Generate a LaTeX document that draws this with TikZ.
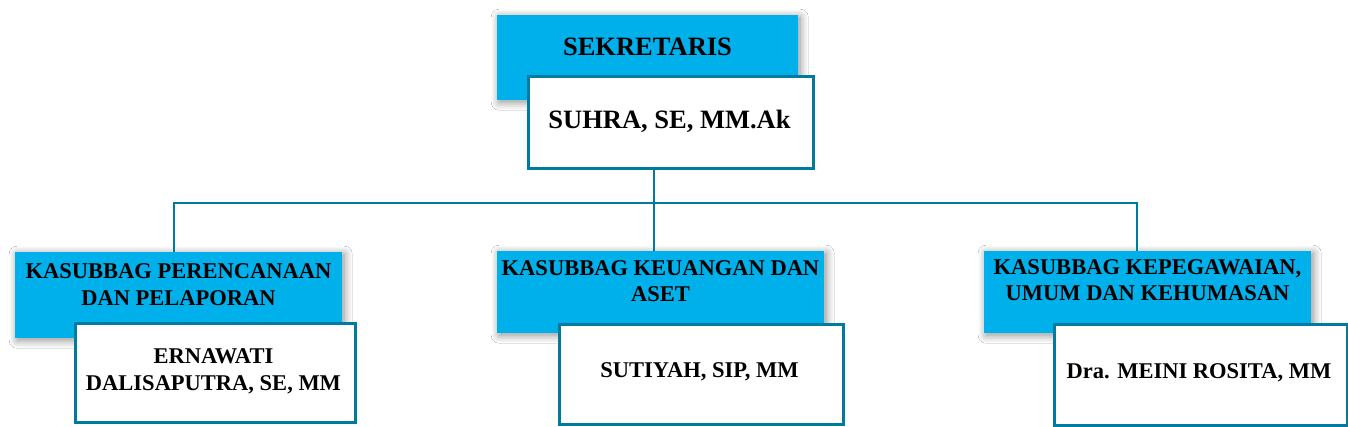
\documentclass[tikz,border=0pt]{standalone}
\usepackage{fontspec}
\setmainfont{Liberation Serif}
\usetikzlibrary{shadows.blur}
\definecolor{cyanfill}{HTML}{00B0EA}
\definecolor{tealline}{HTML}{007BA0}
\tikzset{
  cyanbox/.style={fill=cyanfill, draw=none, anchor=north west, inner sep=0pt,
    blur shadow={shadow xshift=2pt, shadow yshift=-2pt, shadow blur radius=8pt, shadow opacity=45, shadow blur steps=12}},
  whitebox/.style={fill=white, draw=tealline, line width=3pt, anchor=north west, inner sep=0pt},
  conn/.style={draw=tealline, line width=2.5pt},
  bigtxt/.style={font=\fontsize{26.5}{32}\selectfont\bfseries, inner sep=0pt},
  smalltxt/.style={font=\fontsize{22.5}{26.5}\selectfont\bfseries, inner sep=0pt, align=center},
}
\begin{document}
\begin{tikzpicture}[x=1pt,y=-1pt]
\useasboundingbox[fill=white] (0,0) rectangle (1348,426);
% coordinates for connectors
\coordinate (j) at (654,203);
\coordinate (cL) at (174,203);
\coordinate (cR) at (1137,203);
% top
\node[cyanbox, minimum width=301pt, minimum height=85pt] (sek) at (497,15) {};
\node[whitebox, minimum width=285pt, minimum height=92pt] (suhra) at (526.5,74.5) {};
\node[bigtxt] (sekt) at (647.5,47) {SEKRETARIS};
\node[bigtxt] (suhrat) at (669.5,121) {SUHRA, SE, MM.Ak};
% left
\node[cyanbox, minimum width=327pt, minimum height=86pt] (per) at (15,252) {};
\node[whitebox, minimum width=280pt, minimum height=99pt] (ern) at (73.5,321.5) {};
\node[smalltxt] (pert) at (178.5,284.5) {KASUBBAG PERENCANAAN\\DAN PELAPORAN};
\node[smalltxt] (ernt) at (213.5,371.5) {ERNAWATI\\DALISAPUTRA, SE, MM};
% middle
\node[cyanbox, minimum width=327pt, minimum height=82pt] (keu) at (497,251) {};
\node[whitebox, minimum width=284pt, minimum height=100pt] (sut) at (557.5,322.5) {};
\node[smalltxt] (keut) at (660.5,281) {KASUBBAG KEUANGAN DAN\\ASET};
\node[smalltxt] (sutt) at (699.5,372) {SUTIYAH, SIP, MM};
% right
\node[cyanbox, minimum width=327pt, minimum height=82pt] (kep) at (984,251) {};
\node[whitebox, minimum width=293pt, minimum height=101pt] (mei) at (1052.5,322.5) {};
\node[smalltxt] (kept) at (1147.5,280) {KASUBBAG KEPEGAWAIAN,\\UMUM DAN KEHUMASAN};
\node[smalltxt] (meit) at (1199,373) {Dra. MEINI ROSITA, MM};
% connectors
\draw[conn] (suhra.south -| j) -- (keu.north -| j);
\draw[conn] (per.north -| cL) -- (cL) -- (cR) -- (kep.north -| cR);
\end{tikzpicture}
\end{document}
